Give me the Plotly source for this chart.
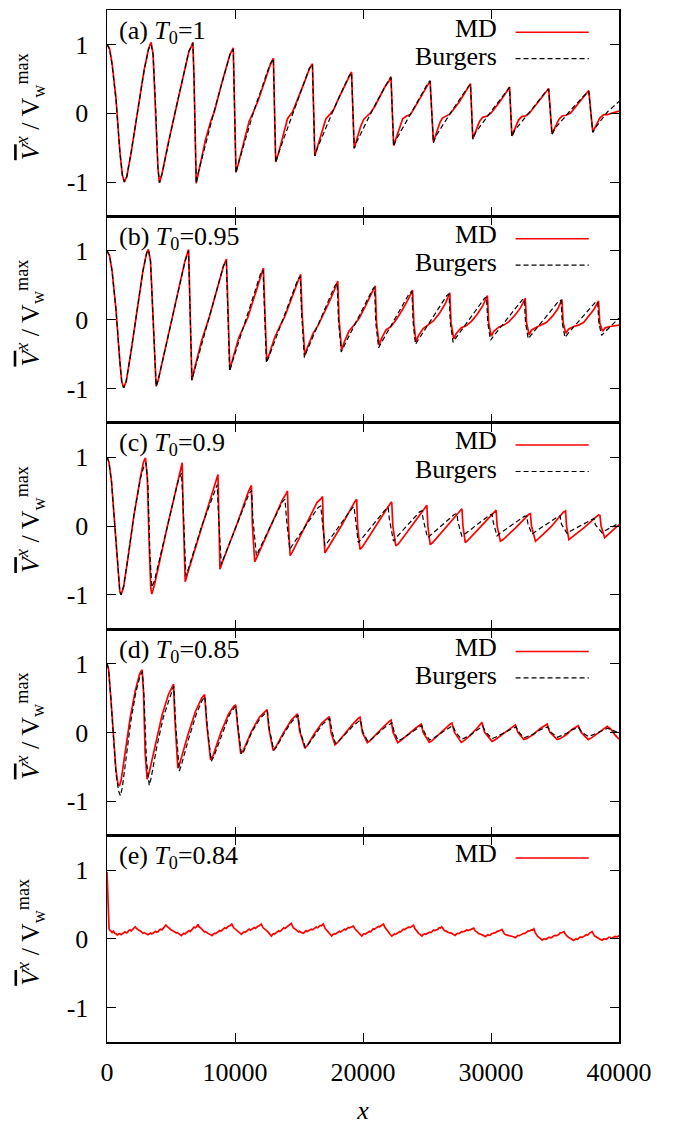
import plotly.graph_objects as go

FONT = "Liberation Serif, Times New Roman, Times, serif"

x_ticks = [0, 10000, 20000, 30000, 40000]
x_tick_labels = ["0", "10000", "20000", "30000", "40000"]
y_ticks = [-1, 0, 1]
y_tick_labels = ["-1", "0", "1"]

panel_labels = ["(a) <i>T</i><sub>0</sub>=1", "(b) <i>T</i><sub>0</sub>=0.95",
                "(c) <i>T</i><sub>0</sub>=0.9", "(d) <i>T</i><sub>0</sub>=0.85",
                "(e) <i>T</i><sub>0</sub>=0.84"]

# ---------------- panel (a) ----------------
a_md = [(0,1.0),(200,0.94),(400,0.72),(700,0.22),(1000,-0.55),(1200,-0.9),(1357,-1.0),(1550,-0.92),(1900,-0.56),(2400,0.06),(2900,0.63),(3250,0.94),(3445,1.03),(3600,0.86),(3800,0.1),(3980,-0.8),(4100,-1.01),
(4300,-0.88),(4800,-0.42),(5300,0.0),(5900,0.46),(6400,0.9),(6620,0.98),(6710,1.03),(6800,0.5),(6970,-1.02),
(7150,-0.86),(7700,-0.38),(8100,-0.12),(8400,0.03),(9000,0.46),(9600,0.85),(9866,0.95),(10075,-0.86),
(10250,-0.74),(10700,-0.4),(11100,-0.12),(11400,0.0),(11800,0.18),(12300,0.45),(12750,0.70),(13000,0.8),(13180,-0.71),
(13400,-0.58),(13800,-0.3),(14100,-0.08),(14500,0.02),(14900,0.2),(15400,0.44),(15800,0.64),(16050,0.72),(16234,-0.62),
(16450,-0.48),(16800,-0.24),(17100,-0.08),(17400,-0.02),(17700,0.05),(18100,0.22),(18600,0.41),(18900,0.53),(19105,0.60),(19314,-0.51),
(19500,-0.40),(19800,-0.2),(20050,-0.09),(20300,-0.04),(20600,0.01),(20900,0.09),(21300,0.24),(21700,0.38),(22000,0.46),(22185,0.53),(22394,-0.47),
(22600,-0.36),(22900,-0.17),(23100,-0.08),(23400,-0.04),(23700,-0.02),(24000,0.07),(24400,0.2),(24800,0.34),(25050,0.41),(25240,0.47),(25500,-0.42),
(25700,-0.31),(26000,-0.14),(26200,-0.07),(26500,-0.04),(26800,-0.01),(27100,0.06),(27500,0.16),(27900,0.28),(28200,0.36),(28397,0.43),(28580,-0.37),
(28800,-0.27),(29100,-0.12),(29350,-0.06),(29700,-0.04),(30000,0.0),(30300,0.07),(30700,0.17),(31100,0.28),(31300,0.33),(31450,0.38),(31633,-0.33),
(31850,-0.23),(32150,-0.1),(32400,-0.05),(32700,-0.04),(33000,0.0),(33300,0.07),(33700,0.17),(34100,0.26),(34350,0.31),(34504,0.36),(34765,-0.30),
(35000,-0.2),(35300,-0.09),(35550,-0.04),(35850,-0.03),(36200,0.0),(36500,0.07),(36900,0.16),(37250,0.24),(37450,0.28),(37636,0.33),(37950,-0.27),
(38200,-0.17),(38500,-0.07),(38800,-0.02),(39100,-0.02),(39400,0.0),(39700,0.01),(40000,0.03)]

a_burgers = [(0,1.0),(200,0.93),(400,0.7),(700,0.2),(1000,-0.55),(1200,-0.9),(1357,-1.0),(1550,-0.92),(1900,-0.55),(2400,0.05),(2900,0.62),(3250,0.93),(3445,1.0),(3600,0.85),(3800,0.1),(3980,-0.8),(4100,-1.01),
(4300,-0.88),(5300,0.0),(6400,0.9),(6710,1.02),(6800,0.5),(6970,-1.02),
(7150,-0.85),(8400,0.05),(9600,0.85),(9866,0.93),(10075,-0.87),
(10250,-0.74),(11500,0.05),(12750,0.72),(13000,0.79),(13180,-0.72),
(13400,-0.58),(14600,0.05),(15800,0.65),(16050,0.71),(16234,-0.62),
(16450,-0.5),(17700,0.05),(18900,0.54),(19105,0.59),(19314,-0.51),
(19500,-0.42),(20800,0.07),(22000,0.48),(22185,0.52),(22394,-0.48),
(22600,-0.38),(23900,0.06),(25050,0.43),(25240,0.47),(25500,-0.43),
(25700,-0.33),(27000,0.05),(28200,0.38),(28397,0.42),(28580,-0.38),
(28800,-0.28),(30100,0.05),(31250,0.34),(31450,0.375),(31633,-0.34),
(31850,-0.25),(33200,0.06),(34300,0.32),(34504,0.35),(34765,-0.31),
(35000,-0.22),(36300,0.06),(37450,0.29),(37636,0.32),(37950,-0.28),
(38200,-0.2),(39100,0.02),(40000,0.17)]

# ---------------- panel (b) ----------------
b_md = [(0,1.0),(200,0.93),(400,0.7),(700,0.15),(1000,-0.6),(1150,-0.9),(1305,-0.99),(1500,-0.9),(1850,-0.5),(2300,0.1),(2800,0.7),(3100,0.97),(3238,1.02),(3400,0.85),(3600,0.0),(3750,-0.75),(3838,-0.97),
(4000,-0.88),(5100,0.03),(6100,0.86),(6371,1.02),(6450,0.4),(6632,-0.88),
(6800,-0.74),(7400,-0.3),(8000,0.04),(8600,0.45),(9100,0.78),(9330,0.88),(9420,0.3),(9600,-0.73),
(9780,-0.6),(10300,-0.26),(11000,0.03),(11600,0.38),(12050,0.64),(12220,0.75),(12320,0.2),(12480,-0.6),
(12680,-0.5),(13100,-0.26),(13500,-0.1),(13900,0.05),(14400,0.3),(14900,0.55),(15130,0.66),(15240,0.1),(15457,-0.52),
(15650,-0.41),(16100,-0.2),(16500,-0.08),(16900,0.07),(17400,0.27),(17850,0.47),(18030,0.56),(18130,0.0),(18330,-0.44),
(18530,-0.33),(18900,-0.17),(19300,-0.08),(19700,0.02),(20200,0.2),(20650,0.37),(20950,0.49),(21060,-0.05),(21260,-0.37),
(21460,-0.27),(21800,-0.15),(22200,-0.1),(22600,0.0),(23100,0.15),(23550,0.3),(23870,0.43),(23970,-0.05),(24140,-0.32),
(24340,-0.23),(24700,-0.13),(25100,-0.08),(25500,-0.02),(26000,0.1),(26450,0.24),(26780,0.39),(26880,-0.05),(27090,-0.28),
(27290,-0.2),(27650,-0.12),(28050,-0.09),(28450,-0.03),(28900,0.07),(29350,0.2),(29720,0.35),(29820,-0.05),(30020,-0.24),
(30220,-0.17),(30600,-0.11),(31000,-0.08),(31400,-0.03),(31850,0.06),(32300,0.17),(32680,0.31),(32780,-0.05),(32980,-0.22),
(33180,-0.15),(33550,-0.11),(33950,-0.08),(34350,-0.04),(34800,0.05),(35200,0.15),(35540,0.29),(35640,-0.05),(35850,-0.2),
(36050,-0.14),(36450,-0.1),(36850,-0.08),(37250,-0.04),(37650,0.05),(38050,0.15),(38400,0.27),(38500,-0.05),(38720,-0.17),
(38920,-0.12),(39300,-0.1),(39700,-0.09),(40000,-0.08)]

b_burgers = [(0,1.0),(200,0.93),(400,0.7),(700,0.15),(1000,-0.6),(1150,-0.9),(1305,-0.99),(1500,-0.9),(1850,-0.5),(2300,0.1),(2800,0.7),(3100,0.97),(3238,1.01),(3400,0.85),(3600,0.0),(3750,-0.75),(3838,-0.97),
(4000,-0.88),(5100,0.05),(6100,0.85),(6371,1.0),(6450,0.4),(6632,-0.88),
(6800,-0.76),(9100,0.78),(9321,0.85),(9400,0.3),(9582,-0.75),
(9750,-0.64),(12000,0.67),(12193,0.72),(12280,0.2),(12454,-0.63),
(12650,-0.54),(14900,0.58),(15100,0.63),(15200,0.1),(15420,-0.55),
(15600,-0.46),(17800,0.49),(17980,0.53),(18080,0.0),(18300,-0.47),
(18500,-0.39),(20750,0.44),(20900,0.47),(21000,-0.05),(21220,-0.41),
(21420,-0.34),(23650,0.39),(23820,0.41),(23920,-0.05),(24100,-0.36),
(24300,-0.3),(26550,0.35),(26720,0.37),(26820,-0.05),(27040,-0.33),
(27240,-0.27),(29500,0.31),(29650,0.33),(29750,-0.05),(29960,-0.30),
(30160,-0.25),(32450,0.29),(32600,0.30),(32700,-0.05),(32910,-0.28),
(33110,-0.23),(35300,0.27),(35470,0.28),(35570,-0.05),(35780,-0.26),
(35980,-0.21),(38150,0.25),(38330,0.26),(38430,-0.05),(38640,-0.23),
(38840,-0.19),(40000,0.02)]

# ---------------- panel (c) ----------------
c_md = [(0,1.0),(150,0.93),(350,0.65),(600,0.0),(850,-0.7),(1000,-0.95),(1097,-1.0),(1300,-0.88),(1650,-0.45),(2100,0.15),(2600,0.7),(2850,0.93),(3003,0.99),(3150,0.7),(3300,-0.3),(3420,-0.9),(3500,-0.99),
(3700,-0.86),(4700,-0.02),(5500,0.65),(5800,0.86),(5875,0.92),(5950,0.2),(6110,-0.81),
(6310,-0.68),(7400,-0.02),(8400,0.6),(8600,0.7),(8668,0.75),(8740,0.1),(8825,-0.63),
(9025,-0.52),(10200,0.05),(11050,0.5),(11230,0.56),(11280,0.59),(11360,0.0),(11541,-0.52),
(11741,-0.44),(12900,0.05),(13700,0.38),(14000,0.47),(14100,0.51),(14180,0.0),(14308,-0.43),
(14508,-0.37),(15500,0.01),(16400,0.34),(16741,0.40),(16841,0.43),(16900,0.0),(17024,-0.39),
(17224,-0.33),(18300,0.0),(19350,0.35),(19504,0.39),(19580,0.0),(19765,-0.34),
(19965,-0.3),(21000,0.01),(22100,0.32),(22246,0.35),(22330,0.0),(22559,-0.29),
(22760,-0.26),(23800,0.0),(24850,0.27),(24987,0.30),(25070,0.0),(25248,-0.27),
(25450,-0.24),(26500,-0.01),(27580,0.23),(27728,0.25),(27810,0.0),(27990,-0.24),
(28190,-0.21),(29200,-0.01),(30250,0.21),(30400,0.23),(30480,0.0),(30731,-0.22),
(30930,-0.2),(31900,-0.03),(32950,0.17),(33081,0.18),(33160,0.0),(33473,-0.22),
(33670,-0.19),(34700,-0.01),(35650,0.2),(35823,0.22),(35900,0.0),(36084,-0.20),
(36280,-0.17),(37300,-0.02),(38200,0.13),(38400,0.16),(38512,0.155),(38600,0.0),(38878,-0.17),
(39100,-0.13),(39500,-0.07),(40000,0.02)]

c_burgers = [(0,1.0),(150,0.93),(350,0.65),(600,0.0),(850,-0.7),(1000,-0.95),(1097,-1.0),(1300,-0.88),(1650,-0.45),(2100,0.15),(2600,0.68),(2900,0.88),(3050,0.92),(3200,0.6),(3350,-0.4),(3500,-0.89),
(3700,-0.8),(4700,0.0),(5550,0.65),(5820,0.77),(5950,0.3),(6160,-0.72),
(6360,-0.62),(7400,0.0),(8400,0.52),(8610,0.60),(8700,0.2),(8930,-0.56),
(9130,-0.46),(10200,0.05),(11100,0.47),(11300,0.52),(11400,0.1),(11670,-0.43),
(11870,-0.35),(13700,0.35),(13900,0.39),(14050,0.05),(14280,-0.34),
(14480,-0.28),(16500,0.27),(16700,0.29),(16800,0.1),(17020,-0.29),
(17220,-0.24),(19150,0.26),(19300,0.28),(19400,0.1),(19630,-0.24),
(19830,-0.2),(21800,0.25),(21970,0.27),(22060,0.1),(22380,-0.22),
(22580,-0.17),(24450,0.21),(24600,0.22),(24700,0.1),(25040,-0.17),
(25240,-0.14),(27150,0.17),(27330,0.18),(27430,0.05),(27730,-0.15),
(27930,-0.12),(29900,0.16),(30080,0.17),(30180,0.05),(30470,-0.145),
(30670,-0.11),(32600,0.14),(32790,0.145),(32890,0.03),(33200,-0.12),
(33400,-0.09),(35250,0.14),(35400,0.145),(35500,0.03),(35950,-0.11),
(36150,-0.08),(37900,0.105),(38050,0.11),(38150,0.02),(38680,-0.1),
(38880,-0.07),(40000,0.04)]

# ---------------- panel (d) ----------------
d_md = [(0,1.0),(120,0.92),(300,0.5),(500,-0.1),(700,-0.55),(850,-0.74),(966,-0.78),(1100,-0.7),(1400,-0.3),(1800,0.2),(2200,0.6),(2550,0.85),(2742,0.91),(2850,0.6),(2980,-0.3),(3133,-0.68),
(3300,-0.58),(3800,-0.15),(4300,0.25),(4800,0.55),(5100,0.67),(5196,0.70),(5300,0.2),(5535,-0.52),
(5700,-0.44),(6300,-0.05),(6900,0.3),(7400,0.5),(7624,0.55),(7800,0.1),(8094,-0.40),
(8300,-0.33),(8900,0.0),(9500,0.27),(9900,0.38),(10052,0.40),(10200,0.1),(10444,-0.31),
(10650,-0.26),(11300,0.02),(11900,0.22),(12350,0.31),(12507,0.33),(12650,0.05),(12977,-0.26),
(13200,-0.21),(13800,0.0),(14400,0.18),(14750,0.25),(14883,0.27),(15050,0.02),(15457,-0.23),
(15650,-0.19),(16200,-0.02),(16800,0.14),(17200,0.21),(17363,0.23),(17500,0.0),(17807,-0.18),
(18000,-0.15),(18600,-0.01),(19200,0.12),(19600,0.2),(19765,0.22),(19950,0.0),(20340,-0.15),
(20550,-0.12),(21100,-0.01),(21700,0.1),(22050,0.16),(22194,0.18),(22350,0.0),(22716,-0.15),
(22950,-0.12),(23500,-0.03),(24100,0.06),(24400,0.10),(24543,0.12),(24700,0.0),(25170,-0.145),
(25400,-0.12),(25900,-0.04),(26400,0.05),(26800,0.12),(26945,0.135),(27150,0.0),(27677,-0.145),
(27900,-0.12),(28400,-0.04),(28900,0.06),(29150,0.12),(29296,0.145),(29500,0.0),(30080,-0.13),
(30300,-0.11),(30800,-0.04),(31400,0.05),(31750,0.09),(31907,0.11),(32100,0.0),(32559,-0.105),
(32800,-0.09),(33300,-0.03),(33800,0.05),(34200,0.1),(34387,0.12),(34600,0.0),(35170,-0.105),
(35400,-0.09),(35900,-0.03),(36300,0.04),(36650,0.08),(36815,0.096),(37050,0.0),(37598,-0.105),
(37850,-0.08),(38300,-0.02),(38750,0.05),(39087,0.087),(39400,0.04),(39700,-0.04),(40000,-0.10)]

d_burgers = [(0,1.0),(120,0.92),(300,0.5),(500,-0.1),(700,-0.6),(900,-0.85),(1050,-0.92),(1200,-0.8),(1500,-0.35),(1850,0.15),(2250,0.58),(2600,0.83),(2770,0.88),(2900,0.5),(3080,-0.4),(3300,-0.77),
(3450,-0.66),(3900,-0.2),(4400,0.22),(4900,0.52),(5150,0.64),(5230,0.67),(5350,0.15),(5650,-0.56),
(5800,-0.48),(6400,-0.08),(7000,0.28),(7450,0.47),(7650,0.52),(7850,0.05),(8150,-0.42),
(8350,-0.35),(9000,-0.01),(9550,0.25),(9950,0.36),(10080,0.38),(10250,0.05),(10500,-0.32),
(10700,-0.27),(11300,0.0),(11950,0.2),(12400,0.29),(12530,0.31),(12700,0.03),(13030,-0.26),
(13250,-0.21),(13850,-0.01),(14450,0.16),(14800,0.23),(14920,0.25),(15100,0.01),(15500,-0.22),
(15700,-0.18),(16250,-0.03),(16850,0.12),(17250,0.18),(17400,0.2),(17600,0.0),(17850,-0.16),
(18050,-0.14),(18650,-0.02),(19250,0.1),(19650,0.16),(19800,0.18),(20000,0.0),(20380,-0.13),
(20600,-0.11),(21150,-0.02),(21750,0.08),(22100,0.12),(22250,0.14),(22450,0.0),(22750,-0.12),
(23000,-0.1),(23550,-0.03),(24150,0.05),(24450,0.08),(24600,0.1),(24800,0.0),(25200,-0.11),
(25450,-0.09),(25950,-0.03),(26450,0.04),(26850,0.09),(27000,0.1),(27250,0.0),(27700,-0.1),
(27950,-0.08),(28450,-0.03),(28950,0.04),(29200,0.08),(29350,0.09),(29600,0.0),(30100,-0.09),
(30350,-0.07),(30850,-0.02),(31450,0.04),(31800,0.07),(31950,0.08),(32200,0.0),(32600,-0.08),
(32850,-0.06),(33350,-0.02),(33850,0.04),(34250,0.07),(34420,0.08),(34700,0.0),(35200,-0.07),
(35450,-0.05),(35950,-0.01),(36350,0.04),(36700,0.06),(36850,0.07),(37100,0.0),(37600,-0.06),
(37900,-0.04),(38350,0.0),(38800,0.04),(39100,0.06),(39500,0.03),(40000,-0.01)]

# ---------------- panel (e) ----------------
e_md = [(0,0.97),(40,0.72),(100,0.30),(160,0.15),(200,0.13),(300,0.10),(400,0.09),(500,0.11),(600,0.08),(700,0.075),(800,0.055),(900,0.07),(1000,0.075),(1100,0.06),(1200,0.07),
(1300,0.09),(1400,0.10),(1500,0.085),(1600,0.095),(1700,0.12),(1800,0.13),(1900,0.115),(2000,0.14),(2100,0.16),(2200,0.175),(2300,0.15),(2400,0.13),(2500,0.125),(2600,0.115),(2700,0.1),(2800,0.08),(2900,0.09),(3000,0.085),(3100,0.07),(3200,0.06),
(3300,0.075),(3400,0.085),(3500,0.07),(3600,0.08),(3700,0.1),(3800,0.11),(3900,0.095),(4000,0.105),(4100,0.13),(4200,0.14),(4300,0.13),(4400,0.155),(4500,0.17),(4600,0.2),(4700,0.18),(4800,0.16),(4900,0.14),(5000,0.13),(5100,0.12),(5200,0.11),
(5300,0.1),(5400,0.085),(5500,0.09),(5600,0.07),(5700,0.06),(5800,0.045),(5900,0.065),(6000,0.08),(6100,0.07),(6200,0.085),(6300,0.11),(6400,0.12),(6500,0.105),(6600,0.125),(6700,0.15),(6800,0.17),(6900,0.16),(7000,0.175),(7100,0.21),
(7200,0.17),(7300,0.16),(7400,0.14),(7500,0.12),(7600,0.10),(7700,0.105),(7800,0.09),(7900,0.075),(8000,0.065),(8100,0.06),(8200,0.045),(8300,0.065),(8400,0.08),(8500,0.075),(8600,0.095),(8700,0.115),(8800,0.12),(8900,0.11),(9000,0.13),
(9100,0.15),(9200,0.16),(9300,0.15),(9400,0.17),(9500,0.185),(9600,0.19),(9750,0.215),(9900,0.16),(10000,0.145),(10100,0.13),(10200,0.115),(10300,0.09),(10400,0.085),(10500,0.065),(10600,0.085),(10700,0.1),(10800,0.095),(10900,0.11),
(11000,0.13),(11100,0.14),(11200,0.125),(11300,0.135),(11400,0.155),(11500,0.165),(11600,0.15),(11700,0.17),(11800,0.185),(11900,0.19),(12050,0.215),(12200,0.16),(12300,0.15),(12400,0.13),(12500,0.115),(12600,0.09),(12700,0.07),(12850,0.04),
(12950,0.065),(13000,0.075),(13100,0.07),(13200,0.08),(13300,0.1),(13400,0.115),(13500,0.105),(13600,0.12),(13700,0.145),(13800,0.16),(13900,0.15),(14000,0.165),(14100,0.18),(14200,0.19),(14300,0.2),(14400,0.225),(14550,0.16),(14650,0.15),(14750,0.135),
(14850,0.12),(14950,0.1),(15050,0.11),(15150,0.095),(15250,0.085),(15350,0.08),(15450,0.1),(15550,0.12),(15650,0.105),(15750,0.115),(15850,0.135),(15950,0.14),(16050,0.13),(16150,0.145),(16250,0.165),(16350,0.17),(16450,0.16),(16550,0.175),(16650,0.195),(16750,0.19),
(16900,0.215),(17050,0.15),(17150,0.13),(17250,0.11),(17300,0.095),(17400,0.07),(17450,0.075),(17550,0.04),(17650,0.06),(17750,0.075),(17850,0.07),(17950,0.085),(18050,0.1),(18150,0.11),(18250,0.1),(18350,0.115),(18450,0.135),(18550,0.14),
(18650,0.13),(18750,0.15),(18850,0.165),(18950,0.16),(19100,0.17),(19250,0.185),(19350,0.15),(19450,0.13),(19550,0.11),(19650,0.09),(19750,0.07),(19900,0.04),(20000,0.06),(20100,0.075),(20200,0.07),(20300,0.085),(20400,0.1),(20500,0.11),(20600,0.1),(20700,0.125),
(20800,0.145),(20900,0.14),(21000,0.15),(21100,0.16),(21200,0.18),(21300,0.175),(21450,0.19),(21600,0.215),(21700,0.17),(21800,0.14),(21900,0.115),(22000,0.09),(22100,0.07),(22250,0.04),(22350,0.06),(22450,0.07),(22550,0.065),(22650,0.08),(22750,0.1),(22850,0.105),
(22950,0.1),(23050,0.12),(23150,0.14),(23250,0.135),(23350,0.145),(23450,0.15),(23550,0.17),(23700,0.165),(23800,0.18),(23950,0.195),(24050,0.15),(24150,0.12),(24250,0.1),(24350,0.08),(24450,0.065),(24600,0.04),(24700,0.06),(24800,0.07),(24900,0.065),(25000,0.075),
(25100,0.09),(25200,0.095),(25300,0.09),(25400,0.105),(25500,0.125),(25600,0.12),(25700,0.125),(25850,0.14),(25950,0.16),(26050,0.155),(26150,0.175),(26250,0.14),(26350,0.12),(26450,0.115),(26550,0.1),(26650,0.095),(26750,0.085),(26850,0.09),(27000,0.07),(27100,0.065),(27200,0.05),
(27300,0.07),(27400,0.08),(27500,0.075),(27600,0.085),(27700,0.105),(27800,0.1),(27900,0.105),(28000,0.115),(28100,0.13),(28200,0.12),(28350,0.13),(28450,0.135),(28550,0.15),(28650,0.155),(28750,0.12),(28850,0.1),(28950,0.09),(29050,0.075),(29150,0.07),(29300,0.06),
(29400,0.05),(29550,0.03),(29650,0.05),(29750,0.06),(29850,0.05),(29950,0.055),(30050,0.075),(30150,0.08),(30250,0.075),(30350,0.09),(30450,0.105),(30600,0.11),(30700,0.12),(30850,0.135),(30950,0.09),(31050,0.07),(31150,0.06),(31250,0.055),(31350,0.06),(31450,0.045),
(31550,0.05),(31650,0.035),(31750,0.03),(31900,0.015),(32000,0.04),(32100,0.05),(32200,0.045),(32300,0.055),(32400,0.075),(32550,0.08),(32650,0.075),(32800,0.1),(32900,0.115),(33050,0.115),(33150,0.13),(33250,0.125),(33350,0.145),(33450,0.09),(33550,0.05),(33650,0.035),(33750,0.02),
(33850,0.0),(34000,-0.02),(34100,-0.005),(34200,0.0),(34300,-0.01),(34400,0.005),(34500,0.02),(34600,0.02),(34700,0.015),(34800,0.025),(34900,0.045),(35050,0.05),(35150,0.045),(35300,0.065),(35400,0.085),(35500,0.085),(35600,0.095),(35700,0.105),(35800,0.07),(35900,0.04),
(36000,0.03),(36150,0.01),(36250,0.005),(36350,-0.01),(36450,-0.025),(36550,-0.005),(36650,0.0),(36750,-0.01),(36850,0.005),(36950,0.025),(37050,0.025),(37150,0.02),(37250,0.035),(37350,0.055),(37450,0.06),(37550,0.055),(37650,0.075),(37750,0.09),(37900,0.105),(38000,0.07),(38100,0.04),
(38200,0.03),(38350,0.01),(38450,0.0),(38550,-0.01),(38700,-0.02),(38800,0.0),(38900,0.0),(39000,-0.01),(39100,0.005),(39200,0.02),(39300,0.02),(39400,0.01),(39500,0.015),(39600,0.03),(39700,0.035),(39850,0.03),(40000,0.045)]

panels = [
    (a_md, a_burgers),
    (b_md, b_burgers),
    (c_md, c_burgers),
    (d_md, d_burgers),
    (e_md, None),
]

RED = "#ff0000"
fig = go.Figure()
annotations = []
shapes = []
FS = 26
tickfont = dict(family=FONT, size=FS, color="black")
ytitle = ("<span style='text-decoration:overline'><i>V</i></span><sup><i>x</i></sup>"
          " / V<sub>w</sub><sup>max</sup>")

N = len(panels)
for i, (md, bg) in enumerate(panels):
    n = i + 1
    sfx = "" if n == 1 else str(n)
    xa, ya = "x" + sfx, "y" + sfx
    mx, my = zip(*md)
    fig.add_trace(go.Scatter(x=mx, y=my, mode="lines", name="MD",
                             line=dict(color=RED, width=1.7),
                             xaxis=xa, yaxis=ya, showlegend=False, hoverinfo="skip"))
    if bg is not None:
        bx, by = zip(*bg)
        fig.add_trace(go.Scatter(x=bx, y=by, mode="lines", name="Burgers",
                                 line=dict(color="black", width=1.2, dash="5px,3px"),
                                 xaxis=xa, yaxis=ya, showlegend=False, hoverinfo="skip"))
    top = 1 - i / N
    bot = 1 - (i + 1) / N
    xax = dict(domain=[0, 1], anchor=ya, range=[0, 40000],
               tickmode="array", tickvals=x_ticks, ticktext=x_tick_labels,
               showticklabels=(n == N), ticks="inside", ticklen=9, tickwidth=1,
               tickcolor="black", showline=True, linewidth=1.5, linecolor="black",
               mirror="allticks", showgrid=False, zeroline=False,
               tickfont=tickfont, ticklabelstandoff=6)
    if n > 1:
        xax["matches"] = "x"
    if n == N:
        xax["title"] = dict(text="<i>x</i>", font=dict(family=FONT, size=FS, color="black"),
                            standoff=15)
    yax = dict(domain=[bot, top], anchor=xa, range=[-1.5, 1.5],
               tickmode="array", tickvals=y_ticks, ticktext=y_tick_labels,
               ticks="inside", ticklen=9, tickwidth=1, tickcolor="black",
               showline=True, linewidth=1.5, linecolor="black", mirror="allticks",
               showgrid=False, zeroline=False, tickfont=tickfont,
               ticklabelstandoff=12)
    fig.update_layout(**{"xaxis" + sfx: xax, "yaxis" + sfx: yax})

    dref_x = xa + " domain"
    dref_y = ya + " domain"
    annotations.append(dict(text=panel_labels[i], x=0.02, y=0.895, xref=dref_x, yref=dref_y,
                            xanchor="left", yanchor="middle", showarrow=False,
                            font=dict(family=FONT, size=FS, color="black")))
    annotations.append(dict(text=ytitle, x=-0.15, y=0.53, xref="paper", yref=dref_y,
                            xanchor="center", yanchor="middle", textangle=-90, showarrow=False,
                            font=dict(family=FONT, size=FS, color="black")))
    annotations.append(dict(text="MD", x=0.765, y=0.912, xref=dref_x, yref=dref_y,
                            xanchor="right", yanchor="middle", showarrow=False,
                            font=dict(family=FONT, size=FS, color="black")))
    shapes.append(dict(type="line", xref=dref_x, yref=dref_y, x0=0.798, x1=0.941,
                       y0=0.892, y1=0.892, line=dict(color=RED, width=1.5)))
    if bg is not None:
        annotations.append(dict(text="Burgers", x=0.765, y=0.775, xref=dref_x, yref=dref_y,
                                xanchor="right", yanchor="middle", showarrow=False,
                                font=dict(family=FONT, size=FS, color="black")))
        shapes.append(dict(type="line", xref=dref_x, yref=dref_y, x0=0.798, x1=0.941,
                           y0=0.764, y1=0.764, line=dict(color="black", width=1.2, dash="5px,3px")))

fig.update_layout(width=675, height=1128, margin=dict(l=107, r=56, t=8, b=81),
                  paper_bgcolor="white", plot_bgcolor="white",
                  annotations=annotations, shapes=shapes, showlegend=False,
                  font=dict(family=FONT, color="black"))

fig.write_html("out.html", config={"displayModeBar": False, "staticPlot": True},
               post_script="document.body.style.margin='0';")
